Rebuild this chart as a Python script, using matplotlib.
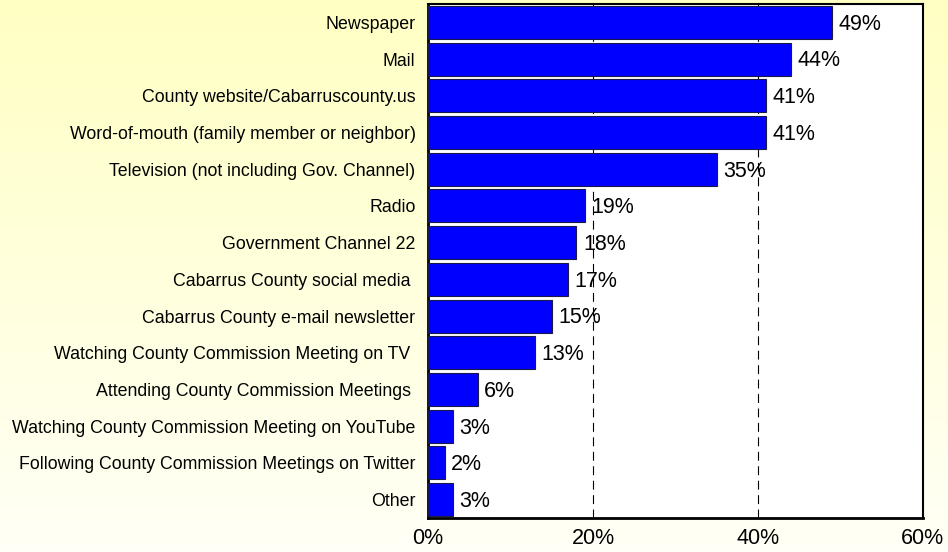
import numpy as np
import matplotlib.pyplot as plt

categories = ['Newspaper', 'Mail', 'County website/Cabarruscounty.us',
              'Word-of-mouth (family member or neighbor)',
              'Television (not including Gov. Channel)', 'Radio',
              'Government Channel 22', 'Cabarrus County social media ',
              'Cabarrus County e-mail newsletter',
              'Watching County Commission Meeting on TV ',
              'Attending County Commission Meetings ',
              'Watching County Commission Meeting on YouTube',
              'Following County Commission Meetings on Twitter', 'Other']
values = [49, 44, 41, 41, 35, 19, 18, 17, 15, 13, 6, 3, 2, 3]
xticks = [0, 20, 40, 60]

fig = plt.figure(figsize=(9.48, 5.52), dpi=100)

# pale yellow background fading downward
bg = fig.add_axes([0, 0, 1, 1], zorder=-1)
t = np.linspace(0, 1, 256)[:, None]
top = np.array([1.0, 1.0, 0.765])
bot = np.array([1.0, 1.0, 0.965])
grad = top + (bot - top) * t
bg.imshow(np.repeat(grad[:, None, :], 2, axis=1).reshape(256, 2, 3),
          aspect='auto', extent=[0, 1, 0, 1])
bg.axis('off')

ax = fig.add_axes([0.4515, 0.0616, 0.522, 0.9312])
ax.set_facecolor('white')
y = np.arange(len(categories))
ax.barh(y, values, height=0.9, color='#0000FF', edgecolor='#1a1a4a',
        linewidth=0.8, zorder=3)
for yi, v in zip(y, values):
    ax.text(v + 0.8, yi + 0.05, f'{v}%', va='center', ha='left',
            fontsize=15.5, family='Liberation Sans', zorder=4)

ax.set_xlim(0, 60)
ax.set_ylim(len(categories) - 0.5, -0.5)
ax.set_yticks(y)
ax.set_yticklabels(categories, fontsize=12.75, family='Liberation Sans')
ax.set_xticks(xticks)
ax.set_xticklabels([f'{v}%' for v in xticks], fontsize=15.5,
                   family='Liberation Sans')
ax.tick_params(axis='y', length=0, pad=9)
ax.tick_params(axis='x', length=0, pad=7)
for x in (20, 40):
    ax.axvline(x, color='black', linestyle=(0, (8, 5)), linewidth=0.8,
               zorder=1)
for side in ('left', 'bottom'):
    ax.spines[side].set_linewidth(2)
for side in ('top', 'right'):
    ax.spines[side].set_linewidth(1.5)

fig.savefig('out.png', dpi=100)
